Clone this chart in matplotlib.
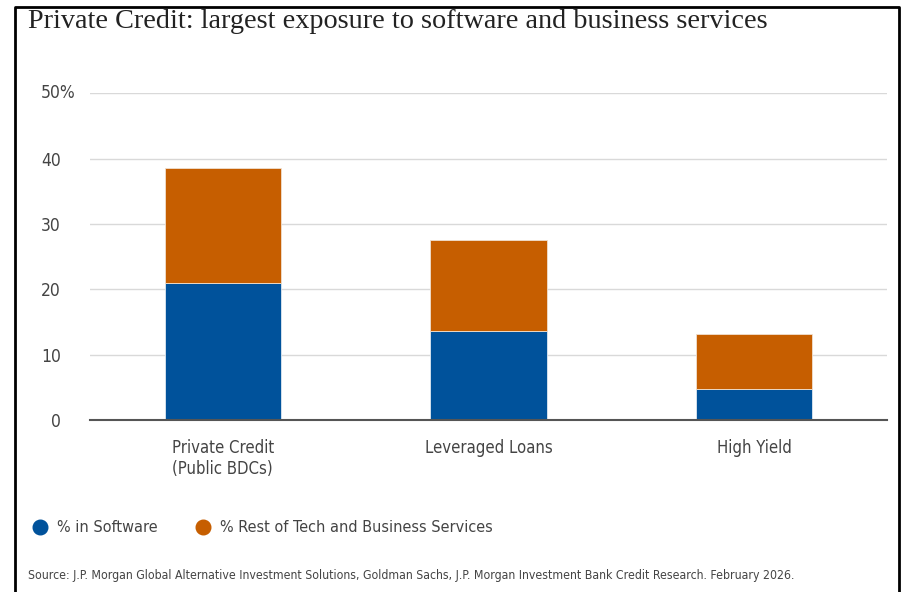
import numpy as np
import matplotlib
matplotlib.use("Agg")
import matplotlib.pyplot as plt
from matplotlib.lines import Line2D

# Data
categories = ["Private Credit\n(Public BDCs)", "Leveraged Loans", "High Yield"]
software = [20.9, 13.7, 4.7]
rest_tech = [17.6, 13.8, 8.4]
y_ticks = [0, 10, 20, 30, 40, 50]
y_tick_labels = ["0", "10", "20", "30", "40", ""]
top_tick_label = "50%"

title = "Private Credit: largest exposure to software and business services"
source = ("Source: J.P. Morgan Global Alternative Investment Solutions, Goldman Sachs, "
          "J.P. Morgan Investment Bank Credit Research. February 2026.")

BLUE = "#00529b"
ORANGE = "#c65e00"
TEXT = "#444444"
SANS = dict(family="DejaVu Sans", stretch="condensed")

fig = plt.figure(figsize=(9.03, 5.92), dpi=100)
ax = fig.add_axes([0.0997, 0.2905, 0.8826, 0.5519])

x = np.arange(len(categories))
width = 0.437
ax.bar(x, software, width, color=BLUE, edgecolor="#dfe8f0", linewidth=0.6, zorder=3)
ax.bar(x, rest_tech, width, bottom=software, color=ORANGE, edgecolor="#f0e0d0",
       linewidth=0.6, zorder=3)

ax.set_xlim(-0.5, 2.5)
ax.set_ylim(0, 50)
ax.set_yticks(y_ticks)
ax.set_yticklabels(y_tick_labels, fontsize=12.5, color=TEXT, **SANS)
ax.set_xticks(x)
ax.set_xticklabels(categories, fontsize=12, color=TEXT, va="top", **SANS)
ax.tick_params(axis="both", length=0)
ax.tick_params(axis="y", pad=21)
ax.tick_params(axis="x", pad=14)
# top label is left-aligned with the other numbers so the % sign hangs out
ax.annotate(top_tick_label, xy=(0, y_ticks[-1]), xycoords=("axes fraction", "data"),
            xytext=(-35.5, 0), textcoords="offset points", ha="left", va="center",
            fontsize=12.5, color=TEXT, **SANS)

ax.grid(axis="y", color="#d9d9d9", linewidth=1, zorder=0)
for side in ["left", "right", "top"]:
    ax.spines[side].set_visible(False)
ax.spines["bottom"].set_color("#555555")
ax.spines["bottom"].set_linewidth(1.5)
ax.spines["bottom"].set_zorder(4)

# Title
fig.text(28 / 903, 1 - 21 / 592, title, family=["Liberation Serif", "DejaVu Serif"],
         fontsize=20.3, color="#222222", va="center", ha="left")

# Legend row
legend_items = [("% in Software", BLUE, 40), ("% Rest of Tech and Business Services", ORANGE, 203)]
for label, color, px in legend_items:
    fig.add_artist(Line2D([px / 903], [1 - 527 / 592], marker="o", markersize=10.5,
                          color=color, linestyle="none", transform=fig.transFigure))
    fig.text((px + 17) / 903, 1 - 527 / 592, label, fontsize=11.6,
             color=TEXT, va="center", ha="left", **SANS)

# Source note
fig.text(28 / 903, 1 - 575 / 592, source, fontsize=8.8, color=TEXT,
         va="center", ha="left", **SANS)

# Frame around the panel (open at the bottom)
frame_x = [15 / 903, 15 / 903, 899 / 903, 899 / 903]
frame_y = [0, 1 - 7 / 592, 1 - 7 / 592, 0]
fig.add_artist(Line2D(frame_x, frame_y, color="black", linewidth=2,
                      transform=fig.transFigure))

fig.savefig("out.png", dpi=100)
